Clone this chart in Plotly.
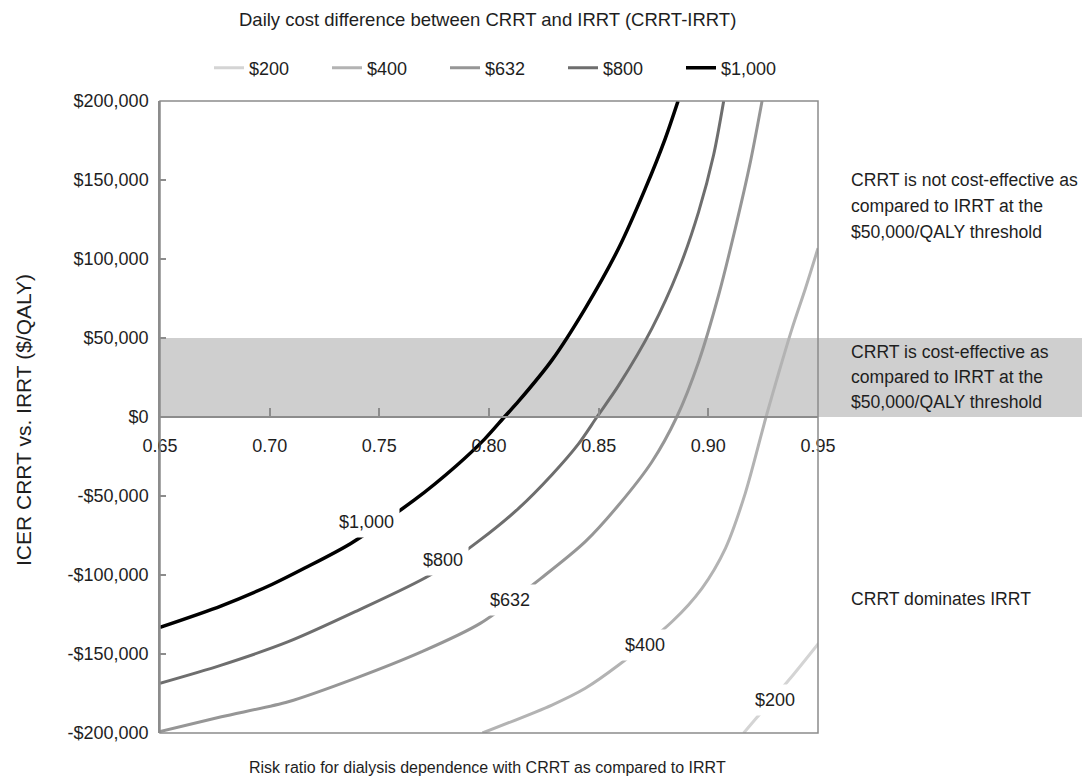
import plotly.graph_objects as go

# ---------------- data ----------------
series_names = ["$200", "$400", "$632", "$800", "$1,000"]

rr_200 = [0.9161, 0.9222, 0.9374, 0.9503]
icer_200 = [-200000, -190000, -165400, -143200]

rr_400 = [0.797, 0.8287, 0.8439, 0.8591, 0.8834, 0.8971, 0.9078, 0.9169, 0.9263, 0.9321, 0.9382, 0.9443, 0.95]
icer_400 = [-200000, -182300, -171700, -157000, -129600, -108400, -83100, -48000, 0, 28000, 56100, 81500, 106800]

rr_632 = [0.65, 0.678, 0.7085, 0.739, 0.7694, 0.796, 0.8256, 0.8439, 0.8591, 0.8743, 0.8856, 0.8956, 0.9047, 0.9123, 0.9192, 0.9245]
icer_632 = [-199000, -189700, -180200, -165400, -148500, -130600, -100000, -78900, -55700, -28300, 0, 35000, 77200, 119400, 161600, 200000]

rr_800 = [0.65, 0.678, 0.7085, 0.739, 0.7732, 0.796, 0.8135, 0.8287, 0.8408, 0.8492, 0.8591, 0.8743, 0.8864, 0.8956, 0.9024, 0.907]
icer_800 = [-168500, -157000, -142200, -123200, -100000, -77800, -57800, -36500, -17000, 0, 20000, 56100, 93000, 130000, 165800, 200000]

rr_1000 = [0.65, 0.678, 0.701, 0.716, 0.737, 0.766, 0.785, 0.798, 0.807, 0.8135, 0.8287, 0.8439, 0.8591, 0.8713, 0.8804, 0.8862]
icer_1000 = [-133100, -119500, -106000, -95600, -80000, -52500, -31000, -14000, 0, 10000, 36000, 68800, 106800, 144700, 176400, 200000]

x_ticks = [0.65, 0.70, 0.75, 0.80, 0.85, 0.90, 0.95]
x_ticktext = ["0.65", "0.70", "0.75", "0.80", "0.85", "0.90", "0.95"]
y_ticks = [-200000, -150000, -100000, -50000, 0, 50000, 100000, 150000, 200000]
y_ticktext = ["-$200,000", "-$150,000", "-$100,000", "-$50,000", "$0",
              "$50,000", "$100,000", "$150,000", "$200,000"]

threshold_low = 0
threshold_high = 50000

# curve label positions (rr, icer)
label_rr = [0.9305, 0.8713, 0.8097, 0.7788, 0.7443]
label_icer = [-179100, -144300, -115800, -90500, -66300]

# ---------------- styling / geometry ----------------
colors = ["#d4d4d4", "#b3b3b3", "#969696", "#6e6e6e", "#000000"]
widths = [3, 3, 3, 3, 3.5]
FONT = "Liberation Sans, Arial, sans-serif"
TXT = "#1e1e1e"
FRAME = "#8c8c8c"

# plot-area geometry in page pixels (page has an 8px body offset)
OFF = 8
PL, PR, PT, PB = 160, 818, 101, 733
PW, PH = PR - PL, PB - PT
W, H = 1090 - OFF, 784 - OFF


def px_x(x):
    return (x - PL) / PW


def px_y(y):
    return (PB - y) / PH


all_rr = [rr_200, rr_400, rr_632, rr_800, rr_1000]
all_icer = [icer_200, icer_400, icer_632, icer_800, icer_1000]

fig = go.Figure()
for name, xs, ys, c, w in zip(series_names, all_rr, all_icer, colors, widths):
    fig.add_trace(go.Scatter(x=xs, y=ys, mode="lines", name=name,
                             line=dict(color=c, width=w, shape="spline", smoothing=0.8)))

annotations = []
for name, lx, ly in zip(series_names, label_rr, label_icer):
    annotations.append(dict(x=lx, y=ly, xref="x", yref="y", text=name, showarrow=False,
                            xanchor="center", yanchor="middle",
                            font=dict(family=FONT, size=18, color=TXT),
                            bgcolor="white", borderpad=5))

# titles
annotations.append(dict(x=px_x(487), y=px_y(20), xref="paper", yref="paper", showarrow=False,
                        xanchor="center", yanchor="middle",
                        text="Daily cost difference between CRRT and IRRT (CRRT-IRRT)",
                        font=dict(family=FONT, size=18.5, color=TXT)))
annotations.append(dict(x=px_x(487), y=px_y(767), xref="paper", yref="paper", showarrow=False,
                        xanchor="center", yanchor="middle",
                        text="Risk ratio for dialysis dependence with CRRT as compared to IRRT",
                        font=dict(family=FONT, size=16, color=TXT)))
annotations.append(dict(x=px_x(23), y=px_y(420), xref="paper", yref="paper", showarrow=False,
                        xanchor="center", yanchor="middle",
                        text="ICER CRRT vs. IRRT ($/QALY)", textangle=-90,
                        font=dict(family=FONT, size=21, color=TXT)))

# right-side region notes (one annotation per line)
notes = [
    (["CRRT is not cost-effective as", "compared to IRRT at the", "$50,000/QALY threshold"], [180, 206, 232]),
    (["CRRT is cost-effective as", "compared to IRRT at the", "$50,000/QALY threshold"], [352, 377, 402]),
    (["CRRT dominates IRRT"], [599]),
]
for lines, ypx in notes:
    for t, yp in zip(lines, ypx):
        annotations.append(dict(x=px_x(849), y=px_y(yp), xref="paper", yref="paper",
                                xanchor="left", yanchor="middle", showarrow=False, text=t,
                                font=dict(family=FONT, size=17.6, color=TXT)))

shapes = [
    dict(type="rect", xref="paper", yref="y", x0=0, x1=px_x(1100),
         y0=threshold_low, y1=threshold_high, fillcolor="#cfcfcf", line=dict(width=0), layer="below"),
    dict(type="rect", xref="paper", yref="paper", x0=0, x1=1, y0=0, y1=1,
         line=dict(color=FRAME, width=1.5), layer="above"),
]

fig.update_layout(
    width=W, height=H,
    margin=dict(l=PL - OFF, r=W - (PR - OFF), t=PT - OFF, b=H - (PB - OFF)),
    plot_bgcolor="white", paper_bgcolor="white",
    font=dict(family=FONT, size=16, color=TXT),
    showlegend=True,
    legend=dict(orientation="h", x=px_x(209), xanchor="left", y=px_y(68), yanchor="middle",
                entrywidth=73, entrywidthmode="pixels", bgcolor="rgba(0,0,0,0)",
                font=dict(family=FONT, size=18, color=TXT), itemclick=False),
    xaxis=dict(range=[0.65, 0.95], tickvals=x_ticks, ticktext=x_ticktext,
               anchor="free", position=0.5, showline=True, linecolor=FRAME, linewidth=1.5,
               ticks="inside", ticklen=8, tickcolor=FRAME, tickwidth=1.5,
               showgrid=False, zeroline=False, ticklabelstandoff=13,
               tickfont=dict(family=FONT, size=18, color=TXT)),
    yaxis=dict(range=[-200000, 200000], tickvals=y_ticks, ticktext=y_ticktext,
               showline=True, linecolor=FRAME, linewidth=1.5,
               ticks="inside", ticklen=6, tickcolor=FRAME, tickwidth=1.5,
               showgrid=False, zeroline=False, ticklabelstandoff=6,
               tickfont=dict(family=FONT, size=18, color=TXT)),
    shapes=shapes,
    annotations=annotations,
)

fig.write_html("out.html")
